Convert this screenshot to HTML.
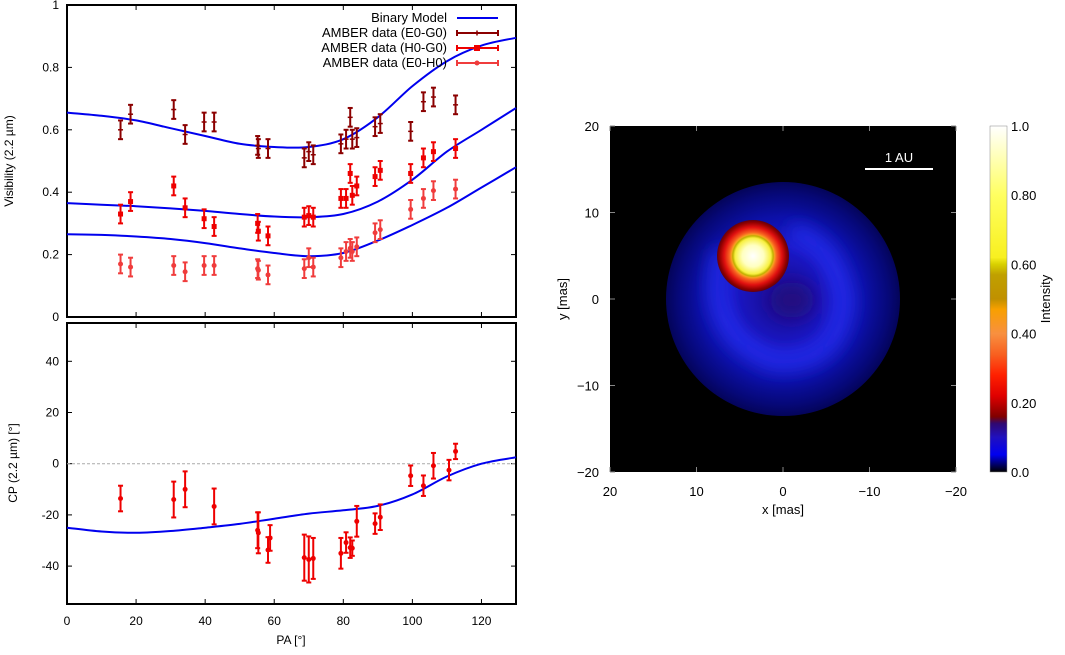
<!DOCTYPE html>
<html><head><meta charset="utf-8"><style>
body{margin:0;background:#fff;width:1065px;height:650px;overflow:hidden}
svg{font-family:"Liberation Sans",sans-serif}
</style></head><body>
<svg id="s" width="1065" height="650" viewBox="0 0 1065 650">
<defs>
<radialGradient id="disk" cx="0.5" cy="0.5" r="0.5">
<stop offset="0" stop-color="#1a0c90"/><stop offset="0.45" stop-color="#1a18c8"/><stop offset="0.7" stop-color="#0c10a8"/><stop offset="0.9" stop-color="#060878"/><stop offset="1" stop-color="#04045a"/>
</radialGradient>
<radialGradient id="star" cx="0.5" cy="0.5" r="0.5">
<stop offset="0" stop-color="#ffffff"/><stop offset="0.3" stop-color="#ffffc0"/><stop offset="0.5" stop-color="#f8f040"/><stop offset="0.56" stop-color="#c0b000"/><stop offset="0.6" stop-color="#f8a020"/><stop offset="0.66" stop-color="#f86020"/><stop offset="0.8" stop-color="#e01010"/><stop offset="0.93" stop-color="#900000"/><stop offset="1" stop-color="#600010"/>
</radialGradient>
<linearGradient id="cbar" x1="0" y1="1" x2="0" y2="0">
<stop offset="0" stop-color="#000000"/><stop offset="0.05" stop-color="#0000f0"/><stop offset="0.1" stop-color="#2010c0"/><stop offset="0.14" stop-color="#300870"/><stop offset="0.16" stop-color="#800000"/><stop offset="0.22" stop-color="#e00000"/><stop offset="0.28" stop-color="#ff2000"/><stop offset="0.34" stop-color="#f86020"/><stop offset="0.4" stop-color="#f89040"/><stop offset="0.47" stop-color="#f8a000"/><stop offset="0.5" stop-color="#c09000"/><stop offset="0.57" stop-color="#c0a000"/><stop offset="0.6" stop-color="#d8d000"/><stop offset="0.62" stop-color="#f8f020"/><stop offset="0.8" stop-color="#ffff60"/><stop offset="1" stop-color="#ffffff"/>
</linearGradient>
<filter id="bl" x="-50%" y="-50%" width="200%" height="200%"><feGaussianBlur stdDeviation="9"/></filter>
<clipPath id="dc"><circle cx="783" cy="299" r="117"/></clipPath>
</defs>
<g id="plots"></g>
<g>
<rect x="610" y="126" width="346" height="346" fill="#000"/>
<circle cx="783" cy="299" r="117" fill="url(#disk)"/>
<g clip-path="url(#dc)">
<g filter="url(#bl)">
<path d="M722 250 Q700 335 775 362 Q840 365 845 300 Q835 240 790 232" fill="none" stroke="#2834ff" stroke-width="16" opacity="0.75"/>
<ellipse cx="792" cy="300" rx="22" ry="18" fill="#200a80"/>
</g>
</g>
<circle cx="753" cy="256" r="36" fill="url(#star)"/>
<line x1="865" y1="169" x2="933" y2="169" stroke="#fff" stroke-width="2"/>
<text x="899" y="162" fill="#fff" font-size="13" text-anchor="middle">1 AU</text>
</g>
<g id="img-axes"></g>
<rect x="990" y="126" width="17" height="346" fill="url(#cbar)" stroke="#888" stroke-width="0.5"/>
<text transform="translate(1050,299) rotate(-90)" font-size="13" text-anchor="middle">Intensity</text>
</svg>
<script>
const NS="http://www.w3.org/2000/svg";
const svg=document.getElementById('plots');
function el(t,a,p){const e=document.createElementNS(NS,t);for(const k in a)e.setAttribute(k,a[k]);(p||svg).appendChild(e);return e;}
const paE0G0=[15.5,18.4,30.9,34.2,39.7,42.6,55.2,55.4,58.2,68.7,70,71.3,79.3,80.8,82,82.6,83.9,89.2,90.7,99.5,103.2,106.1,112.5];
const visE0G0=[0.60,0.65,0.665,0.585,0.625,0.625,0.55,0.54,0.54,0.51,0.53,0.52,0.555,0.57,0.64,0.57,0.575,0.61,0.62,0.595,0.69,0.705,0.68];
const visH0G0=[0.33,0.37,0.42,0.35,0.315,0.29,0.30,0.275,0.26,0.32,0.325,0.32,0.38,0.38,0.46,0.39,0.42,0.45,0.47,0.46,0.51,0.53,0.54];
const visE0H0=[0.17,0.16,0.165,0.145,0.165,0.165,0.155,0.15,0.135,0.155,0.19,0.16,0.19,0.21,0.22,0.21,0.225,0.27,0.28,0.345,0.38,0.405,0.41];
const visErr=0.03;
const modelPA=[0,10,20,30,40,50,60,70,80,90,100,110,120,130];
const modelTop=[0.655,0.645,0.63,0.605,0.58,0.555,0.545,0.545,0.57,0.64,0.74,0.82,0.87,0.895];
const modelMid=[0.365,0.36,0.355,0.348,0.34,0.33,0.322,0.32,0.33,0.37,0.44,0.53,0.6,0.67];
const modelBot=[0.265,0.263,0.258,0.25,0.237,0.22,0.205,0.195,0.205,0.245,0.295,0.35,0.415,0.48];
const cpPA=[15.5,30.9,34.2,42.6,55.2,55.4,58.2,58.8,68.7,70,71.3,79.3,80.8,82,82.6,83.9,89.2,90.7,99.5,103.2,106.1,110.6,112.5];
const cpVal=[-13.6,-14,-10,-16.7,-26,-27,-33.7,-29,-36.7,-37.4,-37,-35,-30.8,-32.8,-33,-22.5,-23.4,-20.9,-4.7,-8.6,-0.8,-2.5,4.8];
const cpErr=[5,7,7,7,7,8,5,5,9,9,8,6,4,4,3,6,4,5,4,4,5,4,3];
const cpModel=[-25,-26.5,-27,-26.3,-25,-23.5,-21.5,-19.5,-18.2,-16.5,-12,-5,0,2.5];
const xTicks=[0,20,40,60,80,100,120];
const visTicks=[0,0.2,0.4,0.6,0.8,1];
const cpTicks=[-40,-20,0,20,40];
const L=67,R=516;
const X=v=>L+(R-L)*v/130;
const Yv=v=>317-312*v;
const Yc=v=>463.7-2.56*v;
let f=el('rect',{x:L,y:5,width:R-L,height:312,fill:'none',stroke:'#000','stroke-width':2});


f=el('rect',{x:L,y:323,width:R-L,height:281,fill:'none',stroke:'#000','stroke-width':2});


visTicks.forEach(t=>{const y=Yv(t);el('line',{x1:L,x2:L+5,y1:y,y2:y,stroke:'#000'});el('line',{x1:R-5,x2:R,y1:y,y2:y,stroke:'#000'});
const tx=el('text',{x:L-8,y:y+4,'font-size':12,'text-anchor':'end'});tx.textContent=String(t);

});
cpTicks.forEach(t=>{const y=Yc(t);el('line',{x1:L,x2:L+5,y1:y,y2:y,stroke:'#000'});el('line',{x1:R-5,x2:R,y1:y,y2:y,stroke:'#000'});
const tx=el('text',{x:L-8,y:y+4,'font-size':12,'text-anchor':'end'});tx.textContent=String(t);

});
xTicks.forEach(t=>{const x=X(t);[[5,10],[312,317],[323,328],[599,604]].forEach(([a,b])=>el('line',{x1:x,x2:x,y1:a,y2:b,stroke:'#000'}));
const tx=el('text',{x:x,y:625,'font-size':12,'text-anchor':'middle'});tx.textContent=String(t);

});
let t=el('text',{transform:'translate(13,161) rotate(-90)','font-size':12,'text-anchor':'middle'});t.textContent='Visibility (2.2 µm)';


t=el('text',{transform:'translate(17,463) rotate(-90)','font-size':12,'text-anchor':'middle'});t.textContent='CP (2.2 µm) [°]';


t=el('text',{x:291,y:644,'font-size':12,'text-anchor':'middle'});t.textContent='PA [°]';


let z=el('line',{x1:L,x2:R,y1:Yc(0),y2:Yc(0),stroke:'#aaa','stroke-dasharray':'3,2'});


function model(vals,Y,name){const P=modelPA.map((p,i)=>[X(p),Y(vals[i])]);
let d='M'+P[0][0].toFixed(1)+' '+P[0][1].toFixed(1);
for(let i=0;i<P.length-1;i++){const p0=P[Math.max(0,i-1)],p1=P[i],p2=P[i+1],p3=P[Math.min(P.length-1,i+2)];
const c1=[p1[0]+(p2[0]-p0[0])/6,p1[1]+(p2[1]-p0[1])/6],c2=[p2[0]-(p3[0]-p1[0])/6,p2[1]-(p3[1]-p1[1])/6];
d+=' C'+c1.map(v=>v.toFixed(1)).join(' ')+' '+c2.map(v=>v.toFixed(1)).join(' ')+' '+p2[0].toFixed(1)+' '+p2[1].toFixed(1);}
const p=el('path',{d:d,fill:'none',stroke:'#0000ee','stroke-width':2});

}
model(modelTop,Yv,'model-e0-g0');model(modelMid,Yv,'model-h0-g0');model(modelBot,Yv,'model-e0-h0');model(cpModel,Yc,'model-cp');
function pts(pa,vals,err,Y,col,shape,name){pa.forEach((p,i)=>{const x=X(p),y=Y(vals[i]),e=Array.isArray(err)?err[i]:err;
const g=el('g',{stroke:col,fill:col,'stroke-width':2});


const y1=Y(vals[i]+e),y2=Y(vals[i]-e);
el('line',{x1:x,x2:x,y1:y1,y2:y2},g);el('line',{x1:x-2.5,x2:x+2.5,y1:y1,y2:y1},g);el('line',{x1:x-2.5,x2:x+2.5,y1:y2,y2:y2},g);
if(shape==='sq')el('rect',{x:x-2.5,y:y-2.5,width:5,height:5,stroke:'none'},g);
else if(shape==='c')el('circle',{cx:x,cy:y,r:2.5,stroke:'none'},g);
else el('line',{x1:x-2.5,x2:x+2.5,y1:y,y2:y,'stroke-width':1.5},g);});}
pts(paE0G0,visE0G0,visErr,Yv,'#8b0000','+','point-e0-g0');
pts(paE0G0,visH0G0,visErr,Yv,'#ee0000','sq','point-h0-g0');
pts(paE0G0,visE0H0,visErr,Yv,'#f03c3c','c','point-e0-h0');
pts(cpPA,cpVal,cpErr,Yc,'#ee0000','c','point-cp');
const leg=[['Binary Model','#0000ee','line'],['AMBER data (E0-G0)','#8b0000','+'],['AMBER data (H0-G0)','#ee0000','sq'],['AMBER data (E0-H0)','#f03c3c','c']];
leg.forEach((l,i)=>{const y=18+i*15;const g=el('g',{});


const tx=el('text',{x:447,y:y+4,'font-size':13,'text-anchor':'end'},g);tx.textContent=l[0];
el('line',{x1:457,x2:498,y1:y,y2:y,stroke:l[1],'stroke-width':2},g);
if(l[2]!=='line'){el('line',{x1:457,x2:457,y1:y-3,y2:y+3,stroke:l[1],'stroke-width':2},g);el('line',{x1:498,x2:498,y1:y-3,y2:y+3,stroke:l[1],'stroke-width':2},g);}
if(l[2]==='sq')el('rect',{x:474,y:y-3,width:6,height:6,fill:l[1]},g);
if(l[2]==='c')el('circle',{cx:477,cy:y,r:2.5,fill:l[1]},g);
if(l[2]==='+')el('line',{x1:477,x2:477,y1:y-2.5,y2:y+2.5,stroke:l[1],'stroke-width':1.5},g);});
const ia=document.getElementById('img-axes');
const imgTicks=[20,10,0,-10,-20];
const IX=v=>783-8.65*v, IY=v=>299-8.65*v;
imgTicks.forEach(v=>{let tx=el('text',{x:IX(v),y:496,'font-size':13,'text-anchor':'middle'},ia);tx.textContent=(v<0?'\u2212'+(-v):String(v));


tx=el('text',{x:599,y:IY(v)+5,'font-size':13,'text-anchor':'end'},ia);tx.textContent=(v<0?'\u2212'+(-v):String(v));


el('line',{x1:IX(v),x2:IX(v),y1:467,y2:472,stroke:'#888'},ia);el('line',{x1:IX(v),x2:IX(v),y1:126,y2:131,stroke:'#888'},ia);
el('line',{x1:610,x2:615,y1:IY(v),y2:IY(v),stroke:'#888'},ia);el('line',{x1:951,x2:956,y1:IY(v),y2:IY(v),stroke:'#888'},ia);});
t=el('text',{x:783,y:514,'font-size':13,'text-anchor':'middle'},ia);t.textContent='x [mas]';


t=el('text',{transform:'translate(567,299) rotate(-90)','font-size':13,'text-anchor':'middle'},ia);t.textContent='y [mas]';


const cbTicks=[0,0.2,0.4,0.6,0.8,1.0];
const cbLabels=['0.0','0.20','0.40','0.60','0.80','1.0'];
cbTicks.forEach((v,i)=>{const y=472-346*v;const tx=el('text',{x:1011,y:y+5,'font-size':13},ia);tx.textContent=cbLabels[i];

});
</script>
</body></html>
